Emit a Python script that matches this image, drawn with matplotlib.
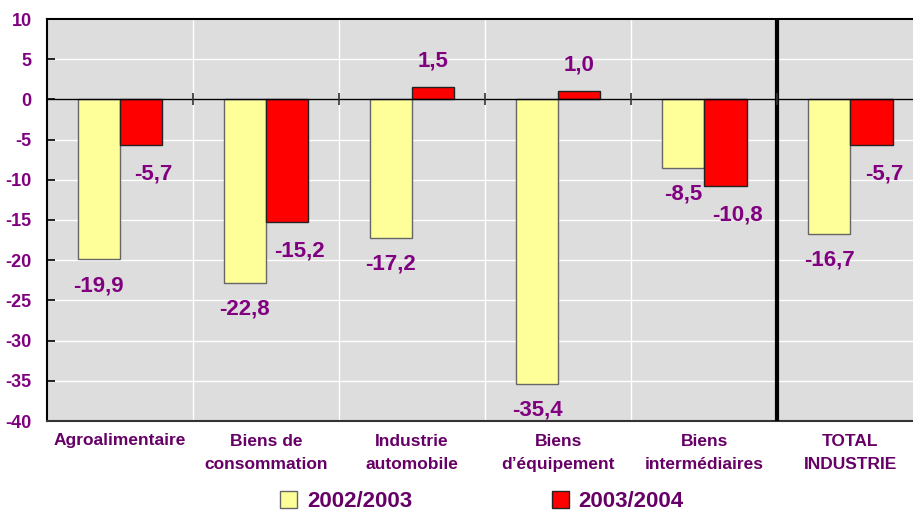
import numpy as np
import matplotlib.pyplot as plt

plt.rcParams['font.family'] = ['Liberation Sans', 'DejaVu Sans']
plt.rcParams['font.weight'] = 'bold'

categories = ['Agroalimentaire', 'Biens de\nconsommation', 'Industrie\nautomobile',
              'Biens\nd\u2019\u00e9quipement', 'Biens\ninterm\u00e9diaires', 'TOTAL\nINDUSTRIE']
v_2003 = [-19.9, -22.8, -17.2, -35.4, -8.5, -16.7]
v_2004 = [-5.7, -15.2, 1.5, 1.0, -10.8, -5.7]
series_names = ['2002/2003', '2003/2004']
yticks = list(range(-40, 11, 5))

purple = '#800080'
dark_purple = '#660066'

fig = plt.figure(figsize=(9.13, 5.13), dpi=100)
ax = fig.add_axes([47 / 913, 92 / 513, 1 - 47 / 913, 402 / 513])
ax.set_facecolor('#dddddd')

x = np.arange(len(categories))
w = 0.29
b1 = ax.bar(x - w / 2, v_2003, w, color='#ffff99', edgecolor='#666666', linewidth=1, zorder=3,
            label=series_names[0])
b2 = ax.bar(x + w / 2, v_2004, w, color='#ff0000', edgecolor='#222222', linewidth=1, zorder=3,
            label=series_names[1])

def fmt(v):
    return ('%.1f' % v).replace('.', ',')

for xi, v in zip(x - w / 2, v_2003):
    ax.annotate(fmt(v), (xi, v), xytext=(0, -19), textcoords='offset points',
                ha='center', va='center', fontsize=16, color=purple, zorder=5)
for xi, v in zip(x + w / 2, v_2004):
    if v >= 0:
        ax.annotate(fmt(v), (xi, v), xytext=(0, 19), textcoords='offset points',
                    ha='center', va='center', fontsize=16, color=purple, zorder=5)
    else:
        ax.annotate(fmt(v), (xi, v), xytext=(9, -21), textcoords='offset points',
                    ha='center', va='center', fontsize=16, color=purple, zorder=5)

ax.set_ylim(-40, 10)
ax.set_xlim(-0.5, 5.43)
ax.set_yticks(yticks)
ax.set_yticklabels([str(t) for t in yticks], color=purple, fontsize=13, fontweight='bold')
ax.tick_params(axis='y', direction='in', length=6, width=1.2, pad=11)
ax.set_xticks(x)
ax.set_xticklabels(categories, color=dark_purple, fontsize=12.5, fontweight='bold',
                   linespacing=1.7)
ax.tick_params(axis='x', length=0, pad=9)

for t in yticks:
    ax.axhline(t, color='white', lw=1, zorder=1)
for b in [0.5, 1.5, 2.5, 3.5]:
    ax.axvline(b, color='white', lw=1, zorder=1)
ax.axvline(4.5, color='black', lw=3, zorder=4)
ax.axhline(0, color='black', lw=1, zorder=4)
ax.plot([0.5, 1.5, 2.5, 3.5, 4.5], [0] * 5, ls='none', marker='|', ms=9, mew=1.2,
        color='#333333', zorder=4)

ax.spines['right'].set_visible(False)
ax.spines['top'].set_color('black')
ax.spines['top'].set_linewidth(1.5)
ax.spines['left'].set_color('black')
ax.spines['left'].set_linewidth(1.5)
ax.spines['bottom'].set_color('#333333')
ax.spines['bottom'].set_linewidth(1.5)

leg = fig.legend(handles=[b1, b2], loc='center', bbox_to_anchor=(0.528, 0.022), ncol=2,
                 frameon=False, handlelength=0.75, handleheight=0.75,
                 columnspacing=6.3, handletextpad=0.45,
                 prop={'weight': 'bold', 'size': 16})
for t in leg.get_texts():
    t.set_color(dark_purple)

fig.savefig('out.png', dpi=100)
